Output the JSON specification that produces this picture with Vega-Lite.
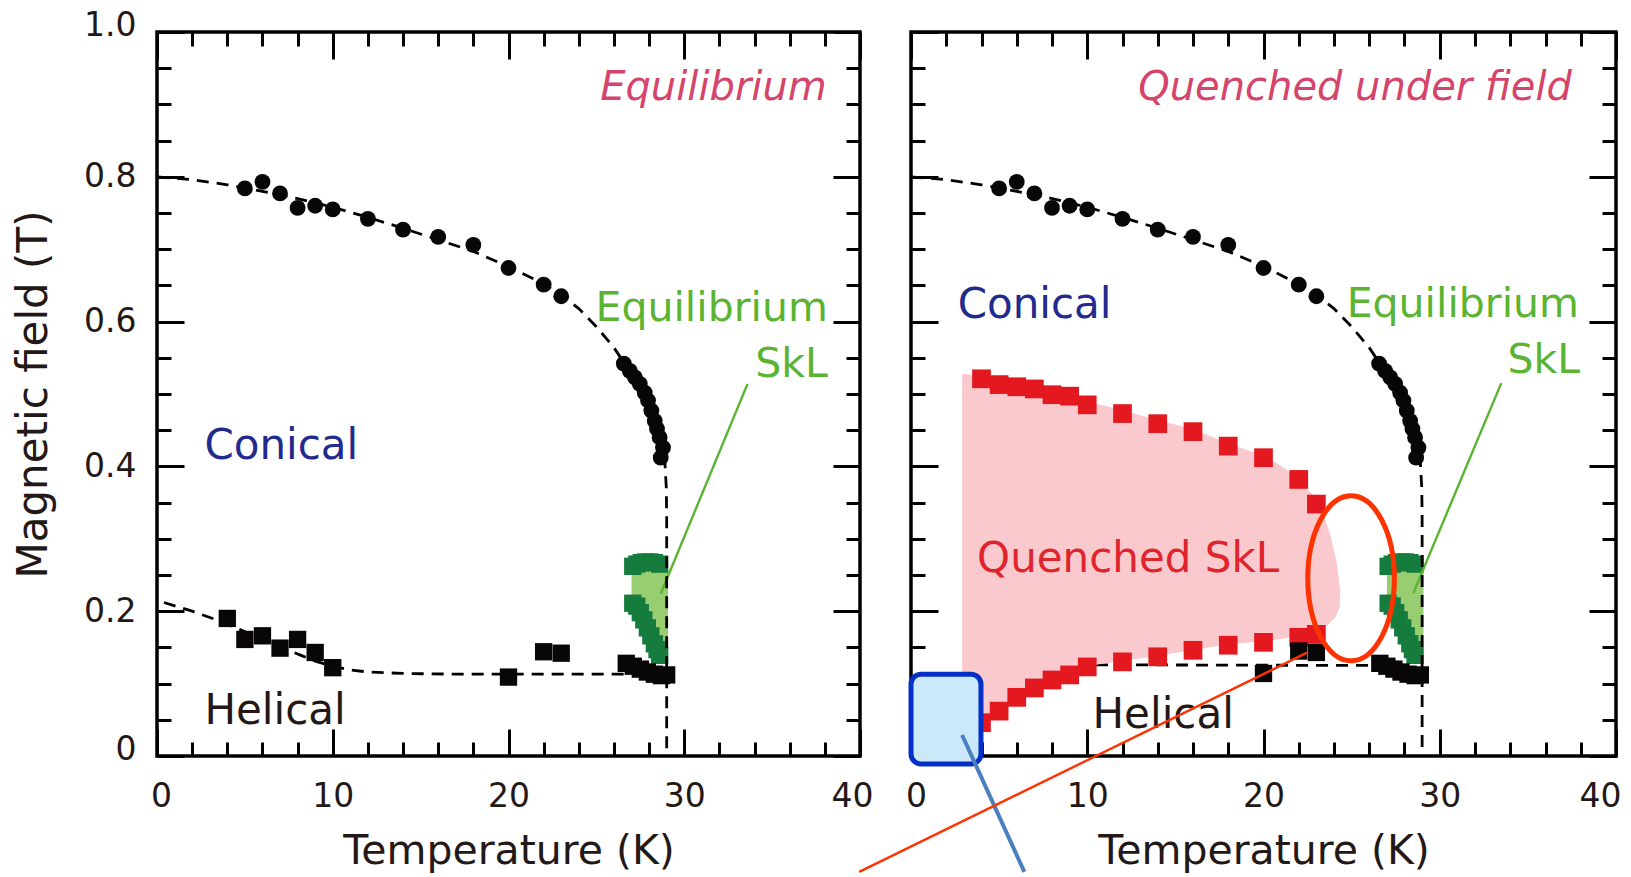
{
"$schema": "https://vega.github.io/schema/vega-lite/v6.json",
"background": "white",
"padding": {"left": 10, "top": 7, "right": 4, "bottom": 0},
"spacing": 51,
"bounds": "flush",
"config": {
  "view": {"stroke": "#000000", "strokeWidth": 3.5},
  "font": "DejaVu Sans",
  "axis": {"domain": false, "grid": false, "labelFont": "DejaVu Sans", "titleFont": "DejaVu Sans", "labelColor": "#231815", "titleColor": "#231815", "tickColor": "#000000", "tickWidth": 3, "titleFontWeight": "normal", "labelFlush": false, "labelOverlap": false}
},
"datasets": {
  "circles": [
    {"T":5,"B":0.784},{"T":6,"B":0.793},{"T":7,"B":0.777},{"T":8,"B":0.757},{"T":9,"B":0.76},{"T":10,"B":0.755},{"T":12,"B":0.742},{"T":14,"B":0.727},{"T":16,"B":0.717},{"T":18,"B":0.706},{"T":20,"B":0.674},{"T":22,"B":0.651},{"T":23,"B":0.635},
    {"T":26.56,"B":0.542},{"T":26.9,"B":0.532},{"T":27.19,"B":0.523},{"T":27.47,"B":0.514},{"T":27.75,"B":0.502},{"T":27.94,"B":0.491},{"T":28.13,"B":0.477},{"T":28.32,"B":0.463},{"T":28.45,"B":0.452},{"T":28.6,"B":0.44},{"T":28.79,"B":0.426},{"T":28.66,"B":0.412}
  ],
  "upper": [
    {"i":0,"T":0,"B":0.8},{"i":1,"T":2,"B":0.796},{"i":2,"T":4,"B":0.789},{"i":3,"T":6,"B":0.78},{"i":4,"T":8,"B":0.77},{"i":5,"T":10,"B":0.758},{"i":6,"T":12,"B":0.744},{"i":7,"T":14,"B":0.729},{"i":8,"T":16,"B":0.713},{"i":9,"T":18,"B":0.697},{"i":10,"T":20,"B":0.676},{"i":11,"T":22,"B":0.652},{"i":12,"T":23,"B":0.637},{"i":13,"T":24,"B":0.618},{"i":14,"T":25,"B":0.593},{"i":15,"T":26,"B":0.564},{"i":16,"T":26.8,"B":0.535},{"i":17,"T":27.5,"B":0.508},{"i":18,"T":28,"B":0.484},{"i":19,"T":28.4,"B":0.46},{"i":20,"T":28.7,"B":0.433},{"i":21,"T":28.9,"B":0.405},{"i":22,"T":28.98,"B":0.37},{"i":23,"T":29,"B":0.33},{"i":24,"T":29,"B":0}
  ],
  "lowerL": [
    {"i":0,"T":0.4,"B":0.212},{"i":1,"T":2,"B":0.2},{"i":2,"T":3.5,"B":0.187},{"i":3,"T":4.5,"B":0.177},{"i":4,"T":6,"B":0.161},{"i":5,"T":7,"B":0.151},{"i":6,"T":8.2,"B":0.139},{"i":7,"T":9,"B":0.131},{"i":8,"T":10,"B":0.124},{"i":9,"T":11,"B":0.119},{"i":10,"T":12,"B":0.116},{"i":11,"T":14,"B":0.114},{"i":12,"T":17,"B":0.113},{"i":13,"T":26.8,"B":0.113}
  ],
  "lowerR": [
    {"i":0,"T":10.5,"B":0.126},{"i":1,"T":26.8,"B":0.125}
  ],
  "blackL": [
    {"T":4,"B":0.19},{"T":5,"B":0.161},{"T":6,"B":0.166},{"T":7,"B":0.149},{"T":8,"B":0.161},{"T":9,"B":0.143},{"T":10,"B":0.122},{"T":20,"B":0.109},{"T":22,"B":0.144},{"T":23,"B":0.142},
    {"T":26.7,"B":0.128},{"T":27.1,"B":0.124},{"T":27.5,"B":0.12},{"T":27.9,"B":0.116},{"T":28.3,"B":0.113},{"T":28.7,"B":0.111},{"T":29,"B":0.112}
  ],
  "blackR": [
    {"T":20,"B":0.114},{"T":22,"B":0.145},{"T":23,"B":0.143},
    {"T":26.6,"B":0.128},{"T":27.0,"B":0.124},{"T":27.4,"B":0.12},{"T":27.8,"B":0.116},{"T":28.2,"B":0.113},{"T":28.6,"B":0.111},{"T":28.9,"B":0.112}
  ],
  "gsq": [
    {"T":27.07,"B":0.262},{"T":27.3,"B":0.265},{"T":27.55,"B":0.267},{"T":27.8,"B":0.268},{"T":28.05,"B":0.268},{"T":28.3,"B":0.267},{"T":28.6,"B":0.265},
    {"T":27.07,"B":0.211},{"T":27.3,"B":0.207},{"T":27.5,"B":0.198},{"T":27.7,"B":0.188},{"T":27.9,"B":0.177},{"T":28.1,"B":0.166},{"T":28.3,"B":0.155},{"T":28.45,"B":0.147},{"T":28.6,"B":0.139}
  ],
  "lightG": [
    {"i":0,"T":27.0,"B":0.262},{"i":1,"T":29.05,"B":0.262},{"i":2,"T":29.05,"B":0.14},{"i":3,"T":28.6,"B":0.139},{"i":4,"T":27.0,"B":0.211}
  ],
  "pink": [
    {"i":0,"T":2.9,"B":0.527},{"i":1,"T":4,"B":0.525},{"i":2,"T":5,"B":0.517},{"i":3,"T":6,"B":0.514},{"i":4,"T":7,"B":0.511},{"i":5,"T":8,"B":0.503},{"i":6,"T":9,"B":0.5},{"i":7,"T":10,"B":0.489},{"i":8,"T":12,"B":0.477},{"i":9,"T":14,"B":0.463},{"i":10,"T":16,"B":0.451},{"i":11,"T":18,"B":0.431},{"i":12,"T":20,"B":0.414},{"i":13,"T":21,"B":0.4},{"i":14,"T":22,"B":0.382},{"i":15,"T":22.83,"B":0.358},{"i":16,"T":23.41,"B":0.331},{"i":17,"T":23.79,"B":0.303},{"i":18,"T":24.13,"B":0.266},{"i":19,"T":24.32,"B":0.229},{"i":20,"T":24.3,"B":0.206},{"i":21,"T":24.07,"B":0.192},{"i":22,"T":23.6,"B":0.181},{"i":23,"T":23.03,"B":0.175},{"i":24,"T":22,"B":0.166},{"i":25,"T":20,"B":0.159},{"i":26,"T":18,"B":0.155},{"i":27,"T":16,"B":0.147},{"i":28,"T":14,"B":0.139},{"i":29,"T":12,"B":0.132},{"i":30,"T":10,"B":0.125},{"i":31,"T":9,"B":0.114},{"i":32,"T":8,"B":0.107},{"i":33,"T":7,"B":0.097},{"i":34,"T":6,"B":0.083},{"i":35,"T":5,"B":0.063},{"i":36,"T":4,"B":0.046},{"i":37,"T":3.2,"B":0.03},{"i":38,"T":2.9,"B":0.03}
  ],
  "red": [
    {"T":4,"B":0.521},{"T":5,"B":0.513},{"T":6,"B":0.51},{"T":7,"B":0.507},{"T":8,"B":0.499},{"T":9,"B":0.497},{"T":10,"B":0.485},{"T":12,"B":0.473},{"T":14,"B":0.459},{"T":16,"B":0.448},{"T":18,"B":0.428},{"T":20,"B":0.412},{"T":22,"B":0.382},{"T":23,"B":0.348},
    {"T":4,"B":0.046},{"T":5,"B":0.062},{"T":6,"B":0.081},{"T":7,"B":0.094},{"T":8,"B":0.105},{"T":9,"B":0.112},{"T":10,"B":0.123},{"T":12,"B":0.13},{"T":14,"B":0.137},{"T":16,"B":0.146},{"T":18,"B":0.153},{"T":20,"B":0.157},{"T":22,"B":0.164},{"T":23,"B":0.168}
  ]
},
"hconcat": [
  {
    "width": 703, "height": 724,
    "resolve": {"axis": {"x": "independent", "y": "independent"}},
    "layer": [
      {
        "data": {"name": "lightG"},
        "mark": {"type": "line", "fill": "#98cd72", "stroke": "#98cd72", "strokeWidth": 1},
        "encoding": {
          "x": {"field": "T", "type": "quantitative", "scale": {"domain": [0, 40], "nice": false},
                "axis": {"orient": "bottom", "values": [0, 10, 20, 30, 40], "ticks": false, "tickSize": 0, "labelPadding": 24, "labelFontSize": 33,
                         "labelOffset": {"condition": [{"test": "datum.value == 40", "value": -8}, {"test": "datum.value == 0", "value": 4}], "value": 0},
                         "title": "Temperature (K)", "titleFontSize": 41, "titlePadding": 18}},
          "y": {"field": "B", "type": "quantitative", "scale": {"domain": [0, 1], "nice": false},
                "axis": {"orient": "left", "values": [0, 0.2, 0.4, 0.6, 0.8, 1], "ticks": false, "tickSize": 0, "labelPadding": 21, "labelFontSize": 33,
                         "labelExpr": "datum.value == 0 ? '0' : format(datum.value, '.1f')",
                         "labelOffset": {"condition": [{"test": "datum.value == 1", "value": -7}, {"test": "datum.value == 0", "value": -7}], "value": 0},
                         "title": "Magnetic field (T)", "titleFontSize": 42, "titlePadding": 28}},
          "order": {"field": "i"}
        }
      },
      {
        "data": {"name": "gsq"},
        "mark": {"type": "point", "shape": "square", "filled": true, "color": "#157c3d", "opacity": 1, "size": 300},
        "encoding": {
          "x": {"field": "T", "type": "quantitative", "scale": {"domain": [0, 40], "nice": false},
                "axis": {"orient": "bottom", "values": [0, 10, 20, 30, 40], "labels": false, "tickSize": -27, "title": null}},
          "y": {"field": "B", "type": "quantitative", "scale": {"domain": [0, 1], "nice": false},
                "axis": {"orient": "left", "values": [0, 0.2, 0.4, 0.6, 0.8, 1], "labels": false, "tickSize": -27, "title": null}}
        }
      },
      {
        "data": {"values": [{"T": 33.6, "B": 0.514, "T2": 28.66, "B2": 0.224}]},
        "mark": {"type": "rule", "color": "#5ab431", "strokeWidth": 2.4},
        "encoding": {
          "x": {"field": "T", "type": "quantitative", "scale": {"domain": [0, 40], "nice": false},
                "axis": {"orient": "bottom", "values": [2, 4, 6, 8, 12, 14, 16, 18, 22, 24, 26, 28, 32, 34, 36, 38], "labels": false, "tickSize": -14, "title": null}},
          "y": {"field": "B", "type": "quantitative", "scale": {"domain": [0, 1], "nice": false},
                "axis": {"orient": "left", "values": [0.05, 0.1, 0.15, 0.25, 0.3, 0.35, 0.45, 0.5, 0.55, 0.65, 0.7, 0.75, 0.85, 0.9, 0.95], "labels": false, "tickSize": -14, "title": null}},
          "x2": {"field": "T2"},
          "y2": {"field": "B2"}
        }
      },
      {
        "data": {"name": "upper"},
        "mark": {"type": "line", "color": "#000000", "strokeWidth": 2.8, "strokeDash": [12, 8]},
        "encoding": {
          "x": {"field": "T", "type": "quantitative", "scale": {"domain": [0, 40], "nice": false},
                "axis": {"orient": "top", "values": [0, 10, 20, 30, 40], "labels": false, "tickSize": -27, "title": null}},
          "y": {"field": "B", "type": "quantitative", "scale": {"domain": [0, 1], "nice": false},
                "axis": {"orient": "right", "values": [0, 0.2, 0.4, 0.6, 0.8, 1], "labels": false, "tickSize": -27, "title": null}},
          "order": {"field": "i"}
        }
      },
      {
        "data": {"name": "lowerL"},
        "mark": {"type": "line", "color": "#000000", "strokeWidth": 2.8, "strokeDash": [12, 8]},
        "encoding": {
          "x": {"field": "T", "type": "quantitative", "scale": {"domain": [0, 40], "nice": false},
                "axis": {"orient": "top", "values": [2, 4, 6, 8, 12, 14, 16, 18, 22, 24, 26, 28, 32, 34, 36, 38], "labels": false, "tickSize": -14, "title": null}},
          "y": {"field": "B", "type": "quantitative", "scale": {"domain": [0, 1], "nice": false},
                "axis": {"orient": "right", "values": [0.05, 0.1, 0.15, 0.25, 0.3, 0.35, 0.45, 0.5, 0.55, 0.65, 0.7, 0.75, 0.85, 0.9, 0.95], "labels": false, "tickSize": -14, "title": null}},
          "order": {"field": "i"}
        }
      },
      {
        "data": {"name": "blackL"},
        "mark": {"type": "point", "shape": "square", "filled": true, "color": "#080606", "opacity": 1, "size": 300},
        "encoding": {
          "x": {"field": "T", "type": "quantitative", "scale": {"domain": [0, 40], "nice": false}, "axis": null},
          "y": {"field": "B", "type": "quantitative", "scale": {"domain": [0, 1], "nice": false}, "axis": null}
        }
      },
      {
        "data": {"name": "circles"},
        "mark": {"type": "point", "shape": "circle", "filled": true, "color": "#080606", "opacity": 1, "size": 250},
        "encoding": {
          "x": {"field": "T", "type": "quantitative", "scale": {"domain": [0, 40], "nice": false}, "axis": null},
          "y": {"field": "B", "type": "quantitative", "scale": {"domain": [0, 1], "nice": false}, "axis": null}
        }
      },
      {
        "data": {"values": [{"T": 38.11, "B": 0.9056, "label": "Equilibrium"}]},
        "mark": {"type": "text", "align": "right", "baseline": "alphabetic", "fontSize": 40, "fontStyle": "italic", "color": "#d5446a"},
        "encoding": {
          "x": {"field": "T", "type": "quantitative", "scale": {"domain": [0, 40], "nice": false}, "axis": null},
          "y": {"field": "B", "type": "quantitative", "scale": {"domain": [0, 1], "nice": false}, "axis": null},
          "text": {"field": "label"}
        }
      },
      {
        "data": {"values": [{"T": 38.17, "B": 0.601, "label": "Equilibrium"}, {"T": 38.17, "B": 0.523, "label": "SkL"}]},
        "mark": {"type": "text", "align": "right", "baseline": "alphabetic", "fontSize": 41, "color": "#5ab431"},
        "encoding": {
          "x": {"field": "T", "type": "quantitative", "scale": {"domain": [0, 40], "nice": false}, "axis": null},
          "y": {"field": "B", "type": "quantitative", "scale": {"domain": [0, 1], "nice": false}, "axis": null},
          "text": {"field": "label"}
        }
      },
      {
        "data": {"values": [{"T": 2.7, "B": 0.41, "label": "Conical"}]},
        "mark": {"type": "text", "align": "left", "baseline": "alphabetic", "fontSize": 42, "color": "#222a8e"},
        "encoding": {
          "x": {"field": "T", "type": "quantitative", "scale": {"domain": [0, 40], "nice": false}, "axis": null},
          "y": {"field": "B", "type": "quantitative", "scale": {"domain": [0, 1], "nice": false}, "axis": null},
          "text": {"field": "label"}
        }
      },
      {
        "data": {"values": [{"T": 2.7, "B": 0.0438, "label": "Helical"}]},
        "mark": {"type": "text", "align": "left", "baseline": "alphabetic", "fontSize": 42, "color": "#231815"},
        "encoding": {
          "x": {"field": "T", "type": "quantitative", "scale": {"domain": [0, 40], "nice": false}, "axis": null},
          "y": {"field": "B", "type": "quantitative", "scale": {"domain": [0, 1], "nice": false}, "axis": null},
          "text": {"field": "label"}
        }
      }
    ]
  },
  {
    "width": 705, "height": 724,
    "resolve": {"axis": {"x": "independent", "y": "independent"}},
    "layer": [
      {
        "data": {"name": "lowerR"},
        "mark": {"type": "line", "color": "#000000", "strokeWidth": 2.8, "strokeDash": [12, 8]},
        "encoding": {
          "x": {"field": "T", "type": "quantitative", "scale": {"domain": [0, 40], "nice": false},
                "axis": {"orient": "bottom", "values": [0, 10, 20, 30, 40], "ticks": false, "tickSize": 0, "labelPadding": 24, "labelFontSize": 33,
                         "labelOffset": {"condition": [{"test": "datum.value == 40", "value": -16}, {"test": "datum.value == 0", "value": 5}], "value": 0},
                         "title": "Temperature (K)", "titleFontSize": 41, "titlePadding": 18}},
          "y": {"field": "B", "type": "quantitative", "scale": {"domain": [0, 1], "nice": false}, "axis": null},
          "order": {"field": "i"}
        }
      },
      {
        "data": {"name": "pink"},
        "mark": {"type": "line", "fill": "#f9c9ce", "stroke": "#f9c9ce", "strokeWidth": 1},
        "encoding": {
          "x": {"field": "T", "type": "quantitative", "scale": {"domain": [0, 40], "nice": false},
                "axis": {"orient": "bottom", "values": [0, 10, 20, 30, 40], "labels": false, "tickSize": -27, "title": null}},
          "y": {"field": "B", "type": "quantitative", "scale": {"domain": [0, 1], "nice": false},
                "axis": {"orient": "left", "values": [0, 0.2, 0.4, 0.6, 0.8, 1], "labels": false, "tickSize": -27, "title": null}},
          "order": {"field": "i"}
        }
      },
      {
        "data": {"name": "red"},
        "mark": {"type": "point", "shape": "square", "filled": true, "color": "#e3191f", "opacity": 1, "size": 350},
        "encoding": {
          "x": {"field": "T", "type": "quantitative", "scale": {"domain": [0, 40], "nice": false},
                "axis": {"orient": "bottom", "values": [2, 4, 6, 8, 12, 14, 16, 18, 22, 24, 26, 28, 32, 34, 36, 38], "labels": false, "tickSize": -14, "title": null}},
          "y": {"field": "B", "type": "quantitative", "scale": {"domain": [0, 1], "nice": false},
                "axis": {"orient": "left", "values": [0.05, 0.1, 0.15, 0.25, 0.3, 0.35, 0.45, 0.5, 0.55, 0.65, 0.7, 0.75, 0.85, 0.9, 0.95], "labels": false, "tickSize": -14, "title": null}}
        }
      },
      {
        "data": {"name": "lightG"},
        "mark": {"type": "line", "fill": "#98cd72", "stroke": "#98cd72", "strokeWidth": 1},
        "encoding": {
          "x": {"field": "T", "type": "quantitative", "scale": {"domain": [0, 40], "nice": false},
                "axis": {"orient": "top", "values": [0, 10, 20, 30, 40], "labels": false, "tickSize": -27, "title": null}},
          "y": {"field": "B", "type": "quantitative", "scale": {"domain": [0, 1], "nice": false},
                "axis": {"orient": "right", "values": [0, 0.2, 0.4, 0.6, 0.8, 1], "labels": false, "tickSize": -27, "title": null}},
          "order": {"field": "i"}
        }
      },
      {
        "data": {"name": "gsq"},
        "mark": {"type": "point", "shape": "square", "filled": true, "color": "#157c3d", "opacity": 1, "size": 300},
        "encoding": {
          "x": {"field": "T", "type": "quantitative", "scale": {"domain": [0, 40], "nice": false},
                "axis": {"orient": "top", "values": [2, 4, 6, 8, 12, 14, 16, 18, 22, 24, 26, 28, 32, 34, 36, 38], "labels": false, "tickSize": -14, "title": null}},
          "y": {"field": "B", "type": "quantitative", "scale": {"domain": [0, 1], "nice": false},
                "axis": {"orient": "right", "values": [0.05, 0.1, 0.15, 0.25, 0.3, 0.35, 0.45, 0.5, 0.55, 0.65, 0.7, 0.75, 0.85, 0.9, 0.95], "labels": false, "tickSize": -14, "title": null}}
        }
      },
      {
        "data": {"values": [{"T": 33.49, "B": 0.515, "T2": 28.5, "B2": 0.225}]},
        "mark": {"type": "rule", "color": "#5ab431", "strokeWidth": 2.4},
        "encoding": {
          "x": {"field": "T", "type": "quantitative", "scale": {"domain": [0, 40], "nice": false}, "axis": null},
          "y": {"field": "B", "type": "quantitative", "scale": {"domain": [0, 1], "nice": false}, "axis": null},
          "x2": {"field": "T2"},
          "y2": {"field": "B2"}
        }
      },
      {
        "data": {"name": "upper"},
        "mark": {"type": "line", "color": "#000000", "strokeWidth": 2.8, "strokeDash": [12, 8]},
        "encoding": {
          "x": {"field": "T", "type": "quantitative", "scale": {"domain": [0, 40], "nice": false}, "axis": null},
          "y": {"field": "B", "type": "quantitative", "scale": {"domain": [0, 1], "nice": false}, "axis": null},
          "order": {"field": "i"}
        }
      },
      {
        "data": {"name": "blackR"},
        "mark": {"type": "point", "shape": "square", "filled": true, "color": "#080606", "opacity": 1, "size": 300},
        "encoding": {
          "x": {"field": "T", "type": "quantitative", "scale": {"domain": [0, 40], "nice": false}, "axis": null},
          "y": {"field": "B", "type": "quantitative", "scale": {"domain": [0, 1], "nice": false}, "axis": null}
        }
      },
      {
        "data": {"name": "circles"},
        "mark": {"type": "point", "shape": "circle", "filled": true, "color": "#080606", "opacity": 1, "size": 250},
        "encoding": {
          "x": {"field": "T", "type": "quantitative", "scale": {"domain": [0, 40], "nice": false}, "axis": null},
          "y": {"field": "B", "type": "quantitative", "scale": {"domain": [0, 1], "nice": false}, "axis": null}
        }
      },
      {
        "data": {"values": [{"T": 37.5, "B": 0.906, "label": "Quenched under field"}]},
        "mark": {"type": "text", "align": "right", "baseline": "alphabetic", "fontSize": 40, "fontStyle": "italic", "color": "#d5446a"},
        "encoding": {
          "x": {"field": "T", "type": "quantitative", "scale": {"domain": [0, 40], "nice": false}, "axis": null},
          "y": {"field": "B", "type": "quantitative", "scale": {"domain": [0, 1], "nice": false}, "axis": null},
          "text": {"field": "label"}
        }
      },
      {
        "data": {"values": [{"T": 37.9, "B": 0.607, "label": "Equilibrium"}, {"T": 37.96, "B": 0.5286, "label": "SkL"}]},
        "mark": {"type": "text", "align": "right", "baseline": "alphabetic", "fontSize": 41, "color": "#5ab431"},
        "encoding": {
          "x": {"field": "T", "type": "quantitative", "scale": {"domain": [0, 40], "nice": false}, "axis": null},
          "y": {"field": "B", "type": "quantitative", "scale": {"domain": [0, 1], "nice": false}, "axis": null},
          "text": {"field": "label"}
        }
      },
      {
        "data": {"values": [{"T": 2.65, "B": 0.6045, "label": "Conical"}]},
        "mark": {"type": "text", "align": "left", "baseline": "alphabetic", "fontSize": 42, "color": "#222a8e"},
        "encoding": {
          "x": {"field": "T", "type": "quantitative", "scale": {"domain": [0, 40], "nice": false}, "axis": null},
          "y": {"field": "B", "type": "quantitative", "scale": {"domain": [0, 1], "nice": false}, "axis": null},
          "text": {"field": "label"}
        }
      },
      {
        "data": {"values": [{"T": 10.3, "B": 0.038, "label": "Helical"}]},
        "mark": {"type": "text", "align": "left", "baseline": "alphabetic", "fontSize": 42, "color": "#231815"},
        "encoding": {
          "x": {"field": "T", "type": "quantitative", "scale": {"domain": [0, 40], "nice": false}, "axis": null},
          "y": {"field": "B", "type": "quantitative", "scale": {"domain": [0, 1], "nice": false}, "axis": null},
          "text": {"field": "label"}
        }
      },
      {
        "data": {"values": [{"T": 3.75, "B": 0.2546, "label": "Quenched SkL"}]},
        "mark": {"type": "text", "align": "left", "baseline": "alphabetic", "fontSize": 42, "color": "#e0242c"},
        "encoding": {
          "x": {"field": "T", "type": "quantitative", "scale": {"domain": [0, 40], "nice": false}, "axis": null},
          "y": {"field": "B", "type": "quantitative", "scale": {"domain": [0, 1], "nice": false}, "axis": null},
          "text": {"field": "label"}
        }
      },
      {
        "data": {"values": [{"T": 0, "T2": 3.97, "B": 0.113, "B2": -0.011}]},
        "mark": {"type": "rect", "fill": "#cce9fc", "stroke": "#0530c8", "strokeWidth": 5, "cornerRadius": 10},
        "encoding": {
          "x": {"field": "T", "type": "quantitative", "scale": {"domain": [0, 40], "nice": false}, "axis": null},
          "y": {"field": "B", "type": "quantitative", "scale": {"domain": [0, 1], "nice": false}, "axis": null},
          "x2": {"field": "T2"},
          "y2": {"field": "B2"}
        }
      },
      {
        "data": {"values": [{"T": 2.9, "B": 0.029, "T2": 6.43, "B2": -0.16}]},
        "mark": {"type": "rule", "color": "#4a7fc0", "strokeWidth": 4},
        "encoding": {
          "x": {"field": "T", "type": "quantitative", "scale": {"domain": [0, 40], "nice": false}, "axis": null},
          "y": {"field": "B", "type": "quantitative", "scale": {"domain": [0, 1], "nice": false}, "axis": null},
          "x2": {"field": "T2"},
          "y2": {"field": "B2"}
        }
      },
      {
        "data": {"values": [{"T": 24.97, "B": 0.2454}]},
        "mark": {"type": "point", "filled": false, "stroke": "#ff3300", "strokeWidth": 5, "opacity": 1, "size": 27225,
                 "shape": "M -0.525 0 A 0.525 1 0 1 1 0.525 0 A 0.525 1 0 1 1 -0.525 0 Z"},
        "encoding": {
          "x": {"field": "T", "type": "quantitative", "scale": {"domain": [0, 40], "nice": false}, "axis": null},
          "y": {"field": "B", "type": "quantitative", "scale": {"domain": [0, 1], "nice": false}, "axis": null}
        }
      },
      {
        "data": {"values": [{"T": 22.47, "B": 0.1427, "T2": -2.94, "B2": -0.16}]},
        "mark": {"type": "rule", "color": "#ff3300", "strokeWidth": 2.4},
        "encoding": {
          "x": {"field": "T", "type": "quantitative", "scale": {"domain": [0, 40], "nice": false}, "axis": null},
          "y": {"field": "B", "type": "quantitative", "scale": {"domain": [0, 1], "nice": false}, "axis": null},
          "x2": {"field": "T2"},
          "y2": {"field": "B2"}
        }
      }
    ]
  }
]
}
